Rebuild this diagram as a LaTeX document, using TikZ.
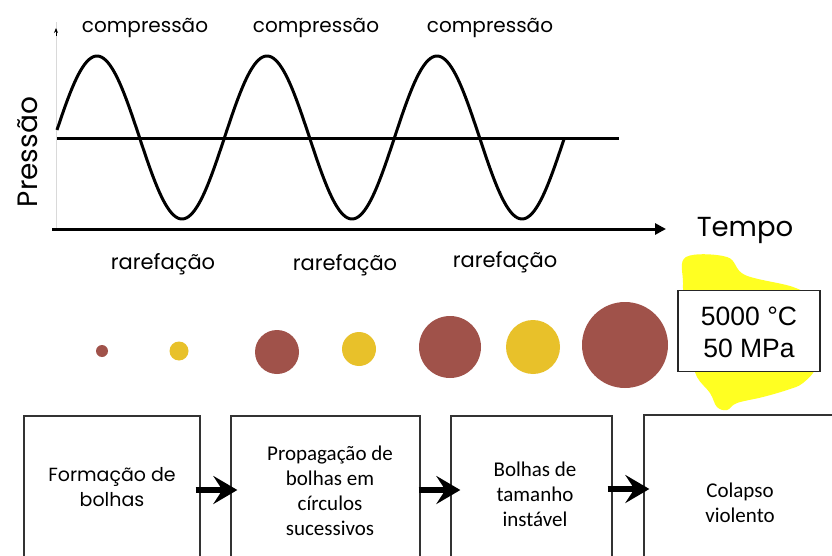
\documentclass[tikz,border=0pt]{standalone}
\usepackage{fontspec}
\setmainfont{Poppins}
\newfontfamily\calib{Carlito}
\newfontfamily\arial{Liberation Sans}
\usetikzlibrary{arrows.meta}
\definecolor{bubred}{HTML}{A0524A}
\definecolor{bubyel}{HTML}{E8C12A}
\definecolor{hilite}{HTML}{FFFF22}
\tikzset{
  wave/.style={line width=3pt, line join=round},
  clbl/.style={font=\fontsize{20}{22}\selectfont, inner sep=0pt},
  rlbl/.style={font=\fontsize{21}{22}\selectfont, inner sep=0pt},
  redb/.style={circle, fill=bubred, inner sep=0pt},
  yelb/.style={circle, fill=bubyel, inner sep=0pt},
  stagebox/.style={draw=black!80, line width=1.3pt, inner sep=0pt},
  boxtxt/.style={font=\calib\fontsize{21}{25}\selectfont, align=center, inner sep=0pt},
  bigarrow/.style={line width=6pt, -{Stealth[length=24pt 0 0,width=28pt 0 0,inset=9pt 0]}},
}
\begin{document}
\begin{tikzpicture}[x=1pt,y=-1pt]
\useasboundingbox (0,0) rectangle (832,556);
\clip (0,0) rectangle (832,556);
\fill[white] (0,0) rectangle (832,556);
% axes
\coordinate (ytop) at (56,22);
\coordinate (ybot) at (56,229);
\draw[black!15, line width=1pt] (ybot) -- (ytop);
\draw[black, line width=1pt, -{Stealth[length=5pt,width=4pt]}] (56,36) -- (56,28);
\coordinate (xstart) at (52,229);
\coordinate (xend) at (666,229);
\draw[line width=3pt, -{Triangle[length=11pt,width=11pt]}] (xstart) -- (xend);
\coordinate (mstart) at (57,139);
\coordinate (mend) at (619,139);
\draw[line width=3pt] (mstart) -- (mend);
% sine wave
\draw[wave] plot[domain=57:564, samples=240, smooth] (\x, {137.5-81.5*sin(2.117647*(\x-54.5))});
% labels
\node[clbl] (c1) at (145,28) {compressão};
\node[clbl] (c2) at (316,28) {compressão};
\node[clbl] (c3) at (490,28) {compressão};
\node[rlbl] (r1) at (163,264) {rarefação};
\node[rlbl] (r2) at (345,265) {rarefação};
\node[rlbl] (r3) at (505,262) {rarefação};
\node[font=\fontsize{28}{30}\selectfont, rotate=90, inner sep=0pt] (pres) at (28,152) {Pressão};
\node[font=\fontsize{27.5}{30}\selectfont, inner sep=0pt] (tempo) at (745,230) {Tempo};
% bubbles
\node[redb, minimum size=12pt] (b1) at (102,351) {};
\node[yelb, minimum size=19pt] (b2) at (179,351) {};
\node[redb, minimum size=44pt] (b3) at (277,352) {};
\node[yelb, minimum size=34pt] (b4) at (359,349) {};
\node[redb, minimum size=62pt] (b5) at (450,347) {};
\node[yelb, minimum size=54pt] (b6) at (533,347) {};
\node[redb, minimum size=86pt] (b7) at (625,345) {};
% yellow highlight
\fill[hilite] plot[smooth cycle, tension=0.6] coordinates {
  (686,257) (727,257) (745,275) (793,287) (812,300) (820,330) (817,365)
  (803,383) (787,390) (763,397) (737,403) (727,410) (717,407) (710,393)
  (697,377) (692,357) (685,317) (683,283)};
\node[draw=black!85, line width=1.3pt, fill=white, minimum width=142pt, minimum height=81pt, inner sep=0pt] (tbox) at (749,331) {};
\node[font=\arial\fontsize{26.5}{32}\selectfont, align=center, inner sep=0pt] (ttxt) at (749,332) {5000 °C\\50 MPa};
% stage boxes
\node[stagebox, minimum width=176pt, minimum height=160pt] (s1) at (112,496) {};
\node[stagebox, minimum width=189pt, minimum height=160pt] (s2) at (325.5,496) {};
\node[stagebox, minimum width=161pt, minimum height=160pt] (s3) at (531.5,496) {};
\node[stagebox, minimum width=200pt, minimum height=162pt] (s4) at (744,496) {};
\node[font=\fontsize{19}{25}\selectfont, align=center, inner sep=0pt] (t1) at (112,487) {Formação de\\bolhas};
\node[boxtxt] (t2) at (330,491) {Propagação de\\bolhas em\\círculos\\sucessivos};
\node[boxtxt] (t3) at (535,494) {Bolhas de\\tamanho\\instável};
\node[boxtxt] (t4) at (740,503) {Colapso\\violento};
% arrows
\draw[bigarrow] ([xshift=-5pt,yshift=6pt]s1.east) -- ([xshift=7pt,yshift=6pt]s2.west);
\draw[bigarrow] ([xshift=-2pt,yshift=6pt]s2.east) -- ([xshift=10pt,yshift=6pt]s3.west);
\draw[bigarrow] ([xshift=-5pt,yshift=7pt]s3.east) -- ([xshift=6pt,yshift=7pt]s4.west);
\end{tikzpicture}
\end{document}
